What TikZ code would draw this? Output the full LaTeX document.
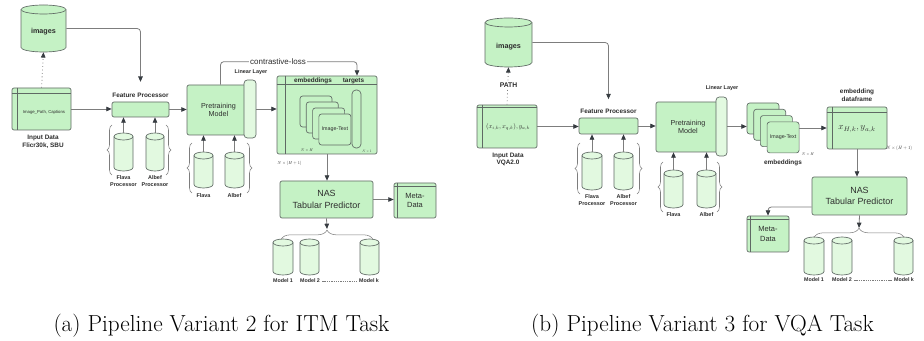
\documentclass[tikz,border=0pt]{standalone}
\usepackage{graphicx}
\usepackage{fontspec}
\newfontfamily\diafont{Liberation Sans}
\usetikzlibrary{arrows.meta,decorations.pathreplacing}

\definecolor{boxg}{RGB}{197,242,197}
\definecolor{lightg}{RGB}{226,249,224}
\definecolor{edgec}{RGB}{95,105,100}
\definecolor{linec}{RGB}{125,125,125}
\definecolor{tipc}{RGB}{55,60,65}
\definecolor{txtc}{RGB}{45,45,45}

% cylinder (data store): {name}{left}{right}{top}{bottom}{ellipse ry}{fill}, all in px
\newcommand\store[7]{%
  \path[draw=edgec, fill=#7, line width=0.5pt]
    ({#2},{#4+#6}) -- ({#2},{#5-#6})
    arc[start angle=180, end angle=0, x radius={(#3-#2)/2}, y radius=#6]
    -- ({#3},{#4+#6})
    arc[start angle=0, end angle=-180, x radius={(#3-#2)/2}, y radius=#6] -- cycle;
  \draw[edgec, line width=0.5pt] ({#2},{#4+#6})
    arc[start angle=180, end angle=0, x radius={(#3-#2)/2}, y radius=#6];
  \node[minimum width={(#3-#2)*0.75pt}, minimum height={(#5-#4)*0.75pt}]
    (#1) at ({(#2+#3)/2},{(#4+#5)/2}) {};
}
% inner ruling of a table shape: {name}{dx}{dy} in px
\newcommand\rules[3]{%
  \draw[edgec, line width=0.5pt] ([xshift=#2*0.75pt]#1.north west) -- ([xshift=#2*0.75pt]#1.south west);
  \draw[edgec, line width=0.5pt] ([yshift=-#3*0.75pt]#1.north west) -- ([yshift=-#3*0.75pt]#1.north east);
}
% small formula: {scale}{math}
\newcommand\fml[2]{\scalebox{#1}{$#2$}}

\tikzset{
  every node/.style={font=\diafont, text=txtc, inner sep=0pt},
  sz/.style 2 args={minimum width=#1*0.75pt, minimum height=#2*0.75pt},
  gbox/.style={draw=edgec, fill=boxg, line width=0.5pt, rounded corners=1.5pt},
  lbox/.style={draw=edgec, fill=lightg, line width=0.5pt, rounded corners=2.5pt},
  conn/.style={draw=linec, line width=0.6pt, rounded corners=2.5pt,
    -{Triangle[length=4pt,width=3.4pt,color=tipc]}},
  dotconn/.style={conn, dotted},
  brc/.style={draw=linec, line width=0.4pt, decorate, decoration={brace, amplitude=3.75pt}},
  hbrc/.style={draw=linec, line width=0.4pt, decorate, decoration={brace, amplitude=7pt}},
  lbl/.style={font=\diafont\bfseries\fontsize{4.8}{6}\selectfont, align=center},
  slbl/.style={font=\diafont\bfseries\fontsize{4.1}{4.6}\selectfont, align=center},
  mlbl/.style={font=\diafont\bfseries\fontsize{4}{4.5}\selectfont},
  predtxt/.style={font=\diafont\fontsize{5.4}{6.2}\selectfont, align=center},
  nastxt/.style={font=\diafont\fontsize{6.7}{8.6}\selectfont, align=center},
  metatxt/.style={font=\diafont\fontsize{5.6}{6.8}\selectfont, align=center},
  cardtxt/.style={font=\diafont\fontsize{4}{4.5}\selectfont},
  dash line/.style={draw=linec, line width=0.35pt, dash pattern=on 1pt off 0.7pt},
  caption/.style={font=\normalfont\fontsize{17.4}{20}\selectfont, text=black, anchor=base},
}

\begin{document}
\begin{tikzpicture}[x=0.75pt, y=-0.75pt]
\useasboundingbox (0,0) rectangle (924,341);

% ===================== (a) ITM pipeline =====================
\store{imgA}{21}{66}{5}{52}{4.5}{boxg}
\node[font=\diafont\bfseries\fontsize{5.4}{6}\selectfont] (imgAt) at (43.5,32) {images};

\node[gbox, sz={59}{42}] (inA) at (41.5,109) {};
\rules{inA}{6}{6}
\node[font=\diafont\fontsize{3.2}{4}\selectfont] (inAt) at (44,112) {Image\_Path, Captions};
\node[lbl] (inAl) at (43,142) {Input Data\\Flicr30k, SBU};
\draw[dotconn] (inA.north) -- (imgA.south);

\node[gbox, sz={57}{15}] (fpA) at (140.5,109.5) {};
\node[lbl] (fpAl) at (140.5,95) {Feature Processor};
\draw[conn] (imgA.east) -| ([yshift=8pt]fpAl.north);
\draw[conn] (inA.east) -- (inA.east -| fpA.west);

\store{fcA1}{114}{133}{133}{171}{3.5}{lightg}
\store{fcA2}{146}{164}{133}{171}{3.5}{lightg}
\node[slbl] (fcA1l) at (123.5,181) {Flava\\Processor};
\node[slbl] (fcA2l) at (155,181) {Albef\\Processor};
\draw[conn] (fcA1.north) -- (fcA1.north |- fpA.south);
\draw[conn] (fcA2.north) -- (fcA2.north |- fpA.south);
\draw[brc] (112,175) -- (112,125);
\draw[brc] (166,125) -- (166,175);

\node[gbox, sz={63}{50}, predtxt] (preA) at (218.5,110) {Pretraining\\Model};
\node[lbox, sz={12}{58}] (linA) at (250,109) {};
\node[slbl] (linAl) at (251,72) {Linear Layer};
\draw[conn] (fpA.east) -- (fpA.east -| preA.west);

\store{flA}{194}{213}{152}{188}{3.5}{lightg}
\store{alA}{225}{244}{152}{188}{3.5}{lightg}
\node[slbl] (flAl) at (203.5,196) {Flava};
\node[slbl] (alAl) at (234.5,196) {Albef};
\draw[conn] (flA.north) -- (flA.north |- preA.south);
\draw[conn] (alA.north) -- (alA.north |- preA.south);
\draw[brc] (192,193) -- (192,143);
\draw[brc] (247,143) -- (247,193);

% embeddings / targets table
\node[gbox, sz={100}{78}] (embA) at (327,115) {};
\rules{embA}{9}{9}
\node[lbl] (embAh1) at (313,81) {embeddings};
\node[lbl] (embAh2) at (353.5,81) {targets};
\foreach \i in {0,...,3}
  \node[gbox, sz={32}{31}, rounded corners=2pt] (cA\i) at ({316+6.3*\i},{111.5+6*\i}) {};
\node[cardtxt] (cAt) at (cA3) {Image-Text};
\node[gbox, sz={9}{58}, rounded corners=3pt] (tgA) at (356.5,119) {};
\node (nhA) at (307,150) {\fml{0.3}{N\times H}};
\node (n1A) at (367,151) {\fml{0.26}{N\times 1}};
\node[anchor=west] (nhhA) at (277,163) {\fml{0.33}{N\times(H+1)}};
\draw[conn] (linA.east) -- (linA.east -| embA.west);

\draw[conn] ([xshift=1.5pt]preA.north) -- ++(0,-23) -| ([xshift=22.5pt]embA.north);
\node[fill=white, inner xsep=1pt, inner ysep=0.5pt, font=\diafont\fontsize{6}{7}\selectfont] (clA) at (278,62) {contrastive-loss};

\node[gbox, sz={93}{37}, nastxt] (nasA) at (326.5,199.5) {NAS\\Tabular Predictor};
\draw[conn] (embA.south) -- (embA.south |- nasA.north);
\node[gbox, sz={42}{35}, metatxt] (metaA) at (415,200.5) {Meta-\\Data};
\rules{metaA}{4}{4}
\draw[conn] (nasA.east) -- (nasA.east -| metaA.west);

\store{m1A}{273}{293}{239}{275}{3.5}{lightg}
\store{m2A}{300}{319}{239}{275}{3.5}{lightg}
\store{mkA}{360}{379}{239}{275}{3.5}{lightg}
\coordinate (tipA) at (327,229);
\draw[hbrc] (281,239.5) -- (373,239.5);
\draw[conn] (nasA.south) -- (tipA);
\node[mlbl] (m1Al) at (283,281) {Model 1};
\node[mlbl] (m2Al) at (310,281) {Model 2};
\node[mlbl] (mkAl) at (369,281) {Model k};
\draw[dash line, shorten <=1.5pt, shorten >=1.5pt] (m2Al.east) -- (mkAl.west);

\node[caption] (capA) at (221.5,332) {(a) Pipeline Variant 2 for ITM Task};

% ===================== (b) VQA pipeline =====================
\store{imgB}{485}{532}{18}{67}{4.5}{boxg}
\node[font=\diafont\bfseries\fontsize{5.4}{6}\selectfont] (imgBt) at (508.5,47) {images};

\node[gbox, sz={60}{43}] (inB) at (507,126.5) {};
\rules{inB}{6}{3}
\node (inBt) at (508,127) {\fml{0.5}{(x_{i,k}, x_{q,k}), y_{a,k}}};
\node[lbl, font=\diafont\bfseries\fontsize{4.8}{5.3}\selectfont] (inBl) at (508,159.5) {Input Data\\VQA2.0};
\draw[dotconn] (inB.north) -- (imgB.south);
\node[fill=white, inner sep=1pt, font=\diafont\bfseries\fontsize{5.1}{6}\selectfont] (pathB) at (508.5,85) {PATH};

\node[gbox, sz={59}{16}] (fpB) at (608.5,126) {};
\node[lbl] (fpBl) at (608.5,111) {Feature Processor};
\draw[conn] (imgB.east) -| ([yshift=7pt]fpBl.north);
\draw[conn] (inB.east) -- (inB.east -| fpB.west);

\store{fcB1}{582}{602}{152}{190}{3.5}{lightg}
\store{fcB2}{614}{633}{152}{190}{3.5}{lightg}
\node[slbl] (fcB1l) at (592,200) {Flava\\Processor};
\node[slbl] (fcB2l) at (623.5,200) {Albef\\Processor};
\draw[conn] (fcB1.north) -- (fcB1.north |- fpB.south);
\draw[conn] (fcB2.north) -- (fcB2.north |- fpB.south);
\draw[brc] (580,194) -- (580,143);
\draw[brc] (637,143) -- (637,194);

\node[gbox, sz={64}{50}, predtxt] (preB) at (688,127) {Pretraining\\Model};
\node[lbox, sz={11}{59}] (linB) at (721.5,126.5) {};
\node[slbl] (linBl) at (722,88) {Linear Layer};
\draw[conn] (fpB.east) -- (fpB.east -| preB.west);

\store{flB}{664}{683}{170}{208}{3.5}{lightg}
\store{alB}{697}{716}{170}{208}{3.5}{lightg}
\node[slbl] (flBl) at (673.5,215) {Flava};
\node[slbl] (alBl) at (706.5,215) {Albef};
\draw[conn] (flB.north) -- (flB.north |- preB.south);
\draw[conn] (alB.north) -- (alB.north |- preB.south);
\draw[brc] (663,212) -- (663,162);
\draw[brc] (717,162) -- (717,212);

\foreach \i in {0,...,3}
  \node[gbox, sz={32}{31}, rounded corners=2pt] (cB\i) at ({763+6.7*\i},{118.5+6.3*\i}) {};
\node[cardtxt] (cBt) at (cB3) {Image-Text};
\node (nhB) at (808,154) {\fml{0.3}{N\times H}};
\node[lbl] (embBl) at (783,163) {embeddings};
\draw[conn] (linB.east) -- (linB.east -| cB0.west);

\node[gbox, sz={60}{42}] (dfB) at (857,128) {};
\rules{dfB}{6}{6}
\node (dfBt) at (857,129) {\fml{0.69}{x_{H,k}, y_{a,k}}};
\node[lbl] (dfBl) at (857,95) {embedding\\dataframe};
\node[anchor=west] (nhhB) at (886,148) {\fml{0.35}{N\times(H+1)}};
\draw[conn] (dfB.west -| cB3.east) -- (dfB.west);

\node[gbox, sz={95}{38}, nastxt] (nasB) at (859.5,196) {NAS\\Tabular Predictor};
\draw[conn] (dfB.south) -- (dfB.south |- nasB.north);
\node[gbox, sz={42}{36}, metatxt] (metaB) at (768,234) {Meta-\\Data};
\rules{metaB}{4}{4}
\draw[conn] ([yshift=-8.25pt]nasB.west) -| (metaB.north);

\store{m1B}{804}{824}{237}{275}{3.5}{lightg}
\store{m2B}{832}{852}{237}{275}{3.5}{lightg}
\store{mkB}{894}{913}{237}{275}{3.5}{lightg}
\coordinate (tipB) at (859,228);
\draw[hbrc] (814,237.5) -- (904,237.5);
\draw[conn] (nasB.south) -- (tipB);
\node[mlbl] (m1Bl) at (814,280) {Model 1};
\node[mlbl] (m2Bl) at (842,280) {Model 2};
\node[mlbl] (mkBl) at (904,280) {Model k};
\draw[dash line, shorten <=1.5pt, shorten >=1.5pt] (m2Bl.east) -- (mkBl.west);

\node[caption] (capB) at (702.5,332) {(b) Pipeline Variant 3 for VQA Task};
\end{tikzpicture}
\end{document}
